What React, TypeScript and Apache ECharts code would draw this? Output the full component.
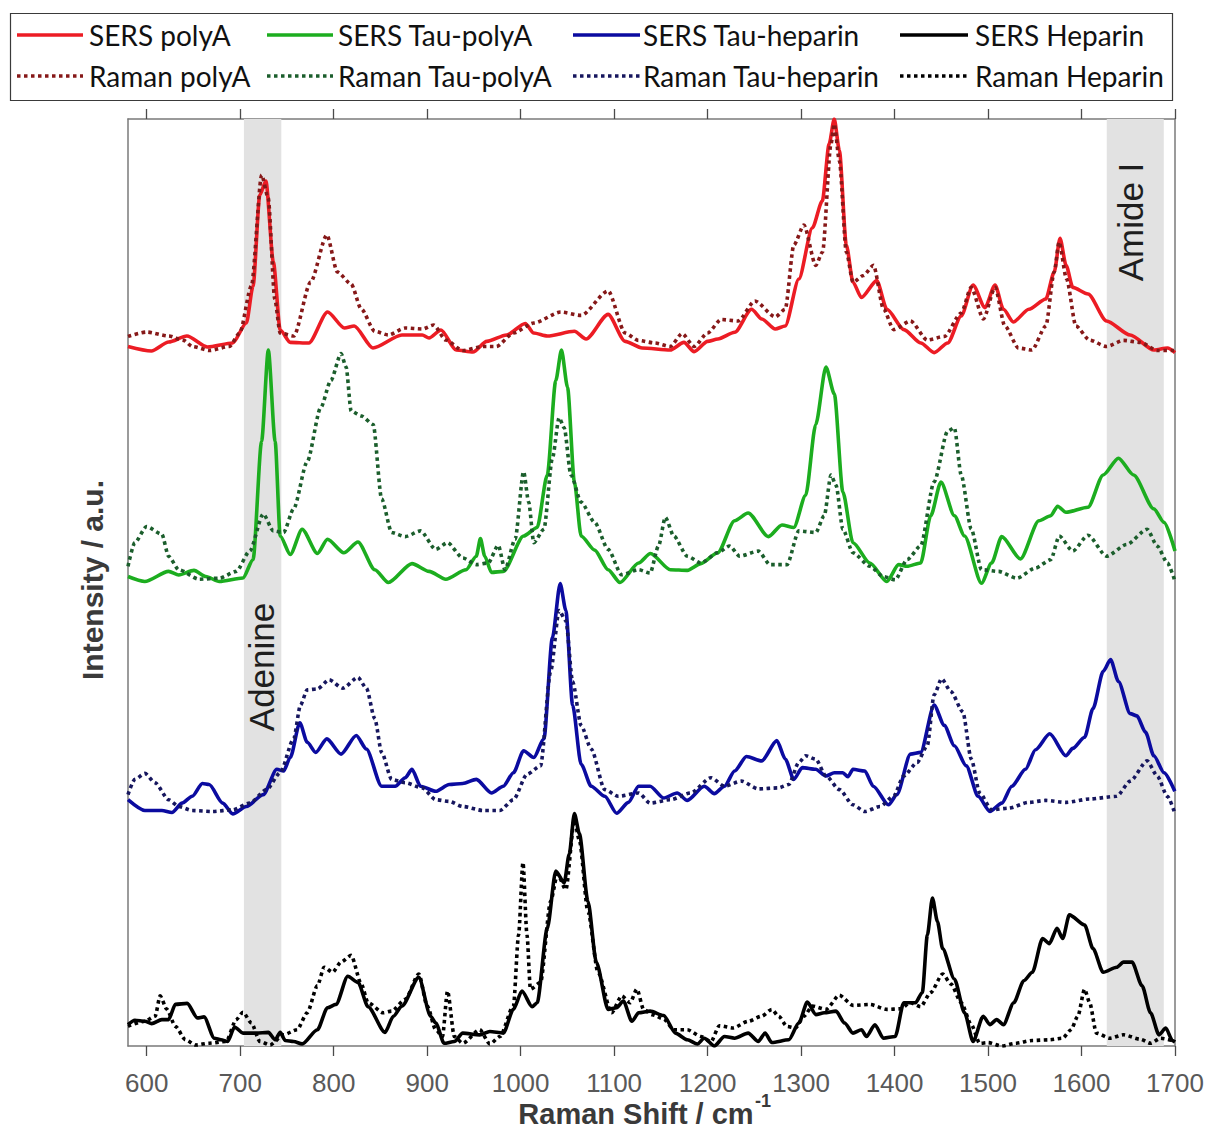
import React, { useEffect, useRef } from "react";
import * as echarts from "echarts";

// ---------- data (x = Raman shift / cm-1, y = intensity a.u., stacked offsets) ----------
const xTickValues = [600, 700, 800, 900, 1000, 1100, 1200, 1300, 1400, 1500, 1600, 1700];
const seriesNames = [
  "SERS polyA", "SERS Tau-polyA", "SERS Tau-heparin", "SERS Heparin",
  "Raman polyA", "Raman Tau-polyA", "Raman Tau-heparin", "Raman Heparin",
];
const seriesColors = ["#ec1c24", "#1cad1f", "#0b0ba0", "#000000", "#861818", "#1b5e2c", "#16165e", "#000000"];
const adenineBand = [704, 744];
const amideBand = [1627, 1688];

const sersPolyA: number[][] = [[580,698.5],[605,694],[623.5,703],[643,709],[665,698],[692,702],[706.6,722],[713.8,759],[721,850],[727.5,864],[735.5,783],[742.8,715],[753.6,702.6],[773.4,702],[793.5,733],[811.5,717],[822,719],[842,697],[873,710],[894.8,710],[902,707],[914.8,715],[931,695],[949,693],[963.8,703.6],[985,710],[1005,721.5],[1014,712],[1028.6,709],[1057.5,713.7],[1070,706],[1093.6,730.6],[1111.8,703.6],[1130,697],[1160,695],[1174.7,702.6],[1185.6,693.4],[1200,703.6],[1211,706],[1229,712.7],[1247,735.7],[1258,726],[1272.4,716],[1283,719],[1297.6,766],[1312,817],[1322.7,844],[1330,901],[1335.5,926],[1341,894.5],[1348.4,800],[1355.6,762.7],[1364.5,747.5],[1381,764.4],[1391.8,735.7],[1410,715.4],[1428,702],[1442.4,692.4],[1456.9,702],[1471.3,729],[1484,760],[1496.7,737.4],[1507.5,760],[1516.5,735.7],[1527,723],[1543.7,735.7],[1561.8,746],[1570.8,773],[1577,806.6],[1583.5,779.6],[1590.7,757.6],[1607,751],[1626.8,724],[1652,710],[1677.5,695],[1692,697],[1700,692.4]];

const ramanPolyA: number[][] = [[580,708.6],[600,713],[623.5,709],[639.6,704.6],[648.8,698.5],[667,694.5],[688.5,698.5],[699.5,712],[712,759],[723,870],[730,847],[737,746],[742.8,712],[757.4,709],[775.4,763],[792.7,810],[804,773],[818.7,761],[829.5,736],[844,713.7],[858.5,710],[876.6,717],[894.8,716],[907,720],[920,705],[938,694.5],[959.8,698.5],[974,698.5],[992.5,712],[1014,722],[1043,733],[1064.7,729.6],[1093.6,754],[1111.8,712],[1126,704.6],[1143.6,702],[1160,698.5],[1172.8,711.4],[1185.6,698.5],[1200,712],[1214.5,725.5],[1232.6,724],[1250.6,744],[1272.4,728],[1283,735.7],[1292.3,800],[1303,820],[1315.7,779.6],[1323,793],[1332,901],[1335.5,921],[1341,884],[1348.4,793],[1355.6,762.7],[1366.6,769.5],[1377.5,779.6],[1388.3,735.7],[1399,715.4],[1417,724],[1435,705],[1453.4,708.6],[1471.3,732],[1482,757.6],[1495,726],[1507.5,757.6],[1518,719],[1532.6,697],[1547,695],[1561.8,719],[1570.8,773],[1576,803],[1584,766],[1594,719],[1608.6,705],[1626.8,698.5],[1645,704.6],[1663,702.6],[1681,694.5],[1700,694.5]];

const sersTauPolyA: number[][] = [[580,468.5],[598,463.5],[623.4,473.6],[634.3,470],[650.6,474.6],[663.2,468.5],[677.7,463.5],[703,467],[713.8,485.4],[722.9,603.7],[730.1,694.9],[737.4,603.7],[742.8,509],[753.6,490.5],[766.3,515.8],[782.6,491.5],[793.4,505.7],[810.8,492.2],[826,503],[844,475.3],[858.5,462.5],[883.8,481.4],[902,473.6],[920,465.8],[941.7,475.3],[952.6,488.8],[957,506.4],[961.6,488.8],[968.8,472.6],[981.5,473.6],[1003.2,509],[1017.7,517.5],[1028.5,570],[1037.6,664.5],[1043.7,694.9],[1050.2,657.7],[1057.5,563],[1064.7,509],[1079.2,494.9],[1093.6,475.3],[1106.3,462.5],[1126.2,482],[1138.9,491.5],[1160.2,475.3],[1178.3,474.6],[1192.8,481.4],[1210.8,492.2],[1228.9,524.3],[1243.4,532],[1265.1,508.4],[1279.6,520],[1292.2,517.5],[1304.9,549.6],[1315.7,620.5],[1326.6,678],[1335.6,651],[1344.7,553],[1355.5,502.3],[1373.6,482],[1391.7,463.5],[1404.4,480.4],[1413.4,478.7],[1427.9,482],[1438.7,529.3],[1449.6,563],[1464,529.3],[1474.9,509],[1493,461.8],[1503.8,482],[1514.7,508.4],[1534.6,486.1],[1554.4,524.3],[1567.1,529.3],[1574.4,538.8],[1583.4,532.7],[1606.9,537.8],[1623.2,570],[1639.5,586.8],[1655.7,570],[1677.4,536.1],[1688.3,522.6],[1700,493.9]];

const ramanTauPolyA: number[][] = [[580,478.7],[587.3,502.3],[599.9,518.5],[616.2,510.8],[623.4,488.8],[634.3,475.3],[656,465.8],[677.7,466.8],[695.8,473.6],[710.2,493.9],[724.7,531],[735.5,514.1],[746.4,512.5],[757.2,536.1],[771.7,583.4],[786.2,637.4],[797,664.5],[807.9,691.5],[813.3,678],[818.7,634],[829.6,629],[842.3,620.5],[851.3,546.2],[862.1,512.5],[876.6,508.4],[892.9,514.1],[909.2,495.6],[921.8,502.3],[938.1,487.1],[952.6,480.4],[965.2,482],[976.1,499.6],[983.3,475.3],[994.1,505.7],[1003.2,573.3],[1008.6,542.9],[1014.1,502.3],[1024.9,515.8],[1034,586.8],[1041.2,627.3],[1046.6,617.2],[1053.8,570],[1064.7,542.9],[1079.2,522.6],[1093.6,495.6],[1108.1,470.2],[1126.2,475.3],[1138.5,471.9],[1147.5,499],[1154.8,527.7],[1163.8,509],[1178.3,488.8],[1192.8,482],[1210.8,492.2],[1223.5,499],[1234.4,488.8],[1254.2,493.9],[1266.9,480.4],[1285,480.4],[1297.6,514.1],[1315.7,512.5],[1324.8,529.3],[1332,570],[1337.4,559.7],[1344.7,515.8],[1355.5,492.2],[1373.6,478.7],[1388.1,468.5],[1400.7,465.2],[1413.4,485.4],[1427.9,499],[1442.3,563],[1456.8,613.8],[1464,617.2],[1471.3,570],[1482.1,515.8],[1493,475.3],[1511.1,473.6],[1530.9,466.8],[1550.8,477],[1567.1,485.4],[1576.2,509],[1590.6,493.9],[1606.9,509.8],[1626.8,488.8],[1648.5,500.6],[1670.2,515.8],[1681,499],[1691.9,482],[1700,463.5]];

const sersTauHeparin: number[][] = [[580,245.3],[598,234.5],[616.2,234.5],[627,232.5],[637.9,241.9],[648.7,248.7],[659.6,261.5],[666.8,260.5],[681.3,241.9],[692.1,231.1],[706.6,238.5],[724.7,250.4],[739.2,275.7],[746.4,274],[753.6,287.5],[763.8,322.3],[771.7,302.7],[780.8,292.6],[792.7,306.1],[807.9,290.9],[824.2,309.5],[835,296],[851.3,258.8],[865.8,258.8],[876.6,267.3],[883.8,275.7],[892.9,258.8],[909.2,253.7],[923.6,260.5],[938.1,261.5],[952.6,265.6],[968.8,252],[981.5,258.8],[992.3,272.3],[1003.2,294.3],[1014.1,287.5],[1024.9,306.1],[1034,407.4],[1042.3,461.5],[1048.4,434.5],[1055.6,339.9],[1064.7,280.8],[1075.5,258.8],[1090,248.7],[1102.7,231.8],[1115.3,242.6],[1126.2,258.8],[1138.5,258.8],[1153,247],[1167.4,252],[1178.3,244.6],[1196.4,258.8],[1207.2,251.4],[1218.1,258.8],[1228.9,274],[1241.6,288.5],[1257.9,284.1],[1274.1,304.4],[1283.2,285.8],[1292.2,265.6],[1301.3,277.4],[1315.7,275.7],[1326.6,269],[1335.6,272.3],[1344.7,272.3],[1350.1,268.3],[1355.5,275.7],[1368.2,274],[1377.2,258.8],[1393.5,240.2],[1402.5,250.4],[1417,290.9],[1427.9,292.6],[1442.3,339.9],[1453.2,319.6],[1464,299.3],[1476.7,279.1],[1489.4,248.7],[1502,233.5],[1514.7,241.9],[1525.5,258.8],[1540,275.7],[1550.8,295.3],[1566,311.2],[1583.4,289.2],[1590.6,296.6],[1603.3,307.8],[1612.3,336.5],[1623.2,373.7],[1631.1,385.5],[1639.5,363.5],[1652.1,331.4],[1659.3,329.1],[1668.4,312.9],[1677.4,289.2],[1688.3,272.3],[1699.8,253.7]];

const ramanTauHeparin: number[][] = [[580,250.4],[587.3,265.6],[598.1,271.6],[609,262.2],[623.4,245.3],[634.3,238.5],[648.7,234.5],[670.4,233.5],[692.1,235.2],[710.2,241.9],[728.3,255.4],[742.8,272.3],[757.2,306.1],[764.5,339.9],[771.7,355.1],[782.6,356.1],[795.2,365.2],[809.7,356.8],[826,367.6],[835,356.8],[844,326.4],[851.3,292.6],[862.1,265.6],[876.6,262.2],[894.7,257.1],[909.2,245.3],[923.6,243.6],[938.1,238.5],[959.8,234.5],[977.9,234.5],[992.3,245.3],[1006.8,270.6],[1021.3,279.1],[1032.1,373.7],[1041.2,434.5],[1048.4,424.3],[1055.6,363.5],[1064.7,319.6],[1075.5,296],[1090,255.4],[1104.5,248.7],[1126.2,252],[1138.5,241.9],[1160.2,245.3],[1181.9,252],[1203.6,267.3],[1218.1,258.8],[1236.2,263.9],[1254.2,256.1],[1276,257.1],[1286.8,260.5],[1297.6,282.5],[1304.9,289.2],[1315.7,285.8],[1326.6,269],[1341,255.4],[1355.5,240.2],[1368.2,233.5],[1384.5,238.5],[1398.9,248.7],[1409.8,269],[1424.2,282.5],[1435,299.3],[1442.3,350],[1450.3,366.2],[1460.4,353.4],[1473,333.1],[1482.1,285.8],[1491.1,252],[1503.8,235.2],[1521.9,236.8],[1543.6,242.6],[1561.7,244.6],[1583.4,242.6],[1608.7,246],[1637.6,248.7],[1652.1,263.9],[1670.2,284.1],[1681,269],[1691.9,248.7],[1699.8,231.8]];

const sersHeparin: number[][] = [[580,20.4],[587.3,24.8],[598.1,23.7],[605.3,21.4],[616.2,25.4],[623.4,25.4],[630.7,40.6],[643.3,41.6],[654.2,27.1],[661.4,28.1],[672.3,6.8],[679.5,5.2],[686.7,3.5],[694,18],[703,11.9],[717.5,11.9],[730.1,12.6],[737.4,5.2],[742.8,12.6],[748.2,4.5],[757.2,3.5],[766.3,1.1],[782.6,15.3],[793.4,37.3],[802.5,40.6],[815.1,68.7],[826,62.6],[836.8,38.3],[854.9,12.6],[863.9,28.8],[873,38.9],[891.1,67.6],[903.7,28.8],[909.2,22],[918.2,1.7],[929.1,3.5],[938.1,11.9],[956.2,10.1],[967.1,13.5],[981.5,11.9],[992.3,35.6],[1001.4,54],[1012.3,38.3],[1017.7,42.3],[1028.5,116.6],[1037.6,174],[1046.6,162.2],[1052,191],[1057.5,231.5],[1062.9,211.2],[1072,143.7],[1081,82.8],[1093.6,35.6],[1102.7,37.3],[1109.9,44],[1119,23.7],[1126.2,32.2],[1138.5,33.9],[1153,29.5],[1165.6,11.9],[1178.3,5.2],[1189.1,1],[1196.4,6.8],[1207.2,-1],[1218.1,8.5],[1228.9,6.8],[1243.4,11.9],[1254.2,3.5],[1261.5,11.9],[1268.7,2.5],[1286.8,5.2],[1297.6,22],[1306.7,43],[1315.7,30.4],[1324.8,32.2],[1337.4,33.9],[1346.5,22],[1355.5,11.9],[1364.6,15.3],[1370,8.5],[1379,20.3],[1388.1,6.8],[1400.7,8.5],[1409.8,42.3],[1422.4,42.3],[1429.7,52.5],[1435.1,109.9],[1440.5,147],[1445.9,123.4],[1451.4,96.4],[1464,66],[1474.9,32.2],[1484,3.5],[1494.8,28.8],[1502,20.4],[1509.2,25.4],[1516.5,20.4],[1527.5,42.3],[1538.3,64.3],[1547.4,72.7],[1558.3,106.5],[1565.5,101.4],[1573.8,116.6],[1579.9,106.5],[1587,130.1],[1603.3,120],[1612.3,96.4],[1623.2,72.7],[1637.6,77.8],[1644.9,82.9],[1654,82.9],[1664.8,59.2],[1673.8,32.2],[1682.9,10.1],[1690.1,16.9],[1697.3,4.4],[1700,3]];

const ramanHeparin: number[][] = [[580,18.7],[598.1,23.7],[609,28.8],[614.4,49.1],[621.6,35.6],[630.7,18.7],[641.5,5.2],[652.4,0],[666.8,1.8],[684.9,3.5],[695.8,25.4],[703,32.8],[712,22],[721.1,3.5],[731.9,0],[746.4,10.2],[760.9,15.3],[771.7,32.2],[782.6,59.2],[789.8,77.8],[798.8,72.7],[807.9,82.9],[818.7,89.6],[829.6,60.9],[836.8,42.3],[853.1,32.2],[862.1,33.9],[876.6,45.7],[891.1,71],[900.1,39],[909.2,15.3],[916.4,8.5],[921.8,54],[929.1,8.5],[938.1,1.7],[956.2,15.3],[967.1,1],[977.9,8.5],[992.3,39],[997.8,109.9],[1002.5,182.5],[1006.8,109.9],[1010.5,55.8],[1021.3,62.6],[1032.1,143.7],[1039.4,170.7],[1048.4,155.5],[1057.5,224.7],[1062.9,204.5],[1072,133.5],[1082.8,72.7],[1097.3,32.2],[1108.1,49.1],[1117.1,42.3],[1124.4,55.8],[1131.6,35.6],[1140.6,30.4],[1153,26.1],[1163.8,15.3],[1178.3,15.3],[1192.8,8.5],[1203.6,3.5],[1212.6,19.3],[1227.1,17],[1243.4,23.7],[1257.9,28.8],[1268.7,35.6],[1276,28.8],[1285,18.6],[1294,17],[1303.1,28.8],[1312.1,38.9],[1326.6,35.6],[1341,49.8],[1355.5,39.6],[1373.6,40.6],[1391.7,35.6],[1406.2,36.2],[1417,42.3],[1427.9,38.3],[1438.7,52.5],[1451.4,71],[1460.4,60.9],[1471.3,42.3],[1482.1,20.4],[1491.1,1.7],[1500.2,2.4],[1514.7,-1],[1529.1,1.7],[1547.2,4.5],[1565.3,5.2],[1579.8,6.8],[1588.8,15.3],[1596,28.7],[1603.3,55.8],[1608.7,42.3],[1615.9,11.9],[1630.4,6.8],[1644.9,10.2],[1663,5.7],[1673.8,1.7],[1684.7,6.8],[1697.3,4.4]];

const seriesData = [sersPolyA, sersTauPolyA, sersTauHeparin, sersHeparin, ramanPolyA, ramanTauPolyA, ramanTauHeparin, ramanHeparin];

const FONT = "Arial, 'Liberation Sans', Helvetica, sans-serif";
const LEGEND_FONT = "Lato, 'Noto Sans', sans-serif";
const DOTS = [3.5, 3.5];

function buildOption(): any {
  const series: any[] = [
    {
      type: "line",
      data: [],
      z: 1,
      silent: true,
      markArea: {
        silent: true,
        itemStyle: { color: "#e2e2e2" },
        data: [
          [{ xAxis: adenineBand[0] }, { xAxis: adenineBand[1] }],
          [{ xAxis: amideBand[0] }, { xAxis: amideBand[1] }],
        ],
      },
    },
  ];
  seriesData.forEach((d, i) => {
    const dotted = i >= 4;
    series.push({
      name: seriesNames[i],
      type: "line",
      data: d,
      showSymbol: false,
      symbol: "none",
      smooth: 0.25,
      smoothMonotone: "x",
      z: dotted ? 4 : 3,
      lineStyle: { color: seriesColors[i], width: 3.6, type: dotted ? DOTS : "solid", cap: "butt" },
    });
  });

  // legend drawn as graphic
  const colX = [[17, 83, 89], [267, 333, 338], [573, 640, 643], [900, 968, 975]];
  const rowY = [35, 76];
  const legendEls: any[] = [
    { type: "rect", shape: { x: 10.5, y: 13.5, width: 1162, height: 87 }, style: { fill: "#fff", stroke: "#3a3a3a", lineWidth: 1.2 } },
  ];
  for (let i = 0; i < 8; i++) {
    const r = i < 4 ? 0 : 1;
    const c = i % 4;
    const [x1, x2, tx] = colX[c];
    legendEls.push({
      type: "line",
      shape: { x1, y1: rowY[r], x2, y2: rowY[r] },
      style: { stroke: seriesColors[i], lineWidth: 3.6, lineDash: r === 1 ? DOTS : null },
    });
    legendEls.push({
      type: "text",
      x: tx,
      y: rowY[r],
      style: { text: seriesNames[i], fontFamily: LEGEND_FONT, fontSize: 28, fill: "#111", align: "left", verticalAlign: "middle" },
    });
  }

  const baseX = {
    type: "value",
    min: 580,
    max: 1700,
    minInterval: 100,
    maxInterval: 100,
    splitNumber: 11,
    splitLine: { show: false },
    axisLine: { show: true, onZero: false, lineStyle: { color: "#7a7a7a", width: 1.5 } },
    axisTick: { show: true, inside: false, length: 10, customValues: xTickValues, lineStyle: { color: "#4a4a4a", width: 1.3 } },
  };
  const baseY = {
    type: "value",
    min: -1,
    max: 926,
    splitLine: { show: false },
    axisLine: { show: true, onZero: false, lineStyle: { color: "#7a7a7a", width: 1.5 } },
    axisTick: { show: false },
    axisLabel: { show: false },
  };

  return {
    animation: false,
    backgroundColor: "#fff",
    grid: { left: 128, top: 119, width: 1047, height: 927, containLabel: false },
    xAxis: [
      {
        ...baseX,
        position: "bottom",
        axisLabel: {
          show: true,
          customValues: xTickValues,
          margin: 24,
          fontSize: 26,
          lineHeight: 26,
          color: "#595959",
          fontFamily: FONT,
          formatter: (v: number) => String(v),
        },
      },
      { ...baseX, position: "top", axisLabel: { show: false } },
    ],
    yAxis: [
      { ...baseY, position: "left" },
      { ...baseY, position: "right" },
    ],
    series,
    graphic: [
      ...legendEls,
      {
        type: "text",
        x: 261,
        y: 667,
        rotation: Math.PI / 2,
        z: 10,
        style: { text: "Adenine", fontFamily: FONT, fontSize: 35, fill: "#1e1e1e", align: "center", verticalAlign: "middle" },
      },
      {
        type: "text",
        x: 1130,
        y: 222,
        rotation: Math.PI / 2,
        z: 10,
        style: { text: "Amide I", fontFamily: FONT, fontSize: 35, fill: "#1e1e1e", align: "center", verticalAlign: "middle" },
      },
      {
        type: "text",
        x: 92,
        y: 580,
        rotation: Math.PI / 2,
        style: { text: "Intensity / a.u.", fontFamily: FONT, fontWeight: "bold", fontSize: 30, fill: "#3a3a3a", align: "center", verticalAlign: "middle" },
      },
      {
        type: "text",
        x: 636,
        y: 1114,
        style: { text: "Raman Shift / cm", fontFamily: FONT, fontWeight: "bold", fontSize: 29, fill: "#3a3a3a", align: "center", verticalAlign: "middle" },
      },
      {
        type: "text",
        x: 755,
        y: 1101,
        style: { text: "-1", fontFamily: FONT, fontWeight: "bold", fontSize: 18, fill: "#3a3a3a", align: "left", verticalAlign: "middle" },
      },
    ],
  };
}

export default function App() {
  const ref = useRef<HTMLDivElement>(null);
  useEffect(() => {
    if (!ref.current) return;
    const chart = echarts.init(ref.current, null, { renderer: "svg" });
    chart.setOption(buildOption());
    return () => chart.dispose();
  }, []);
  return (
    <div
      ref={ref}
      style={{ position: "fixed", left: 0, top: 0, width: 1208, height: 1142, background: "#fff" }}
    />
  );
}
